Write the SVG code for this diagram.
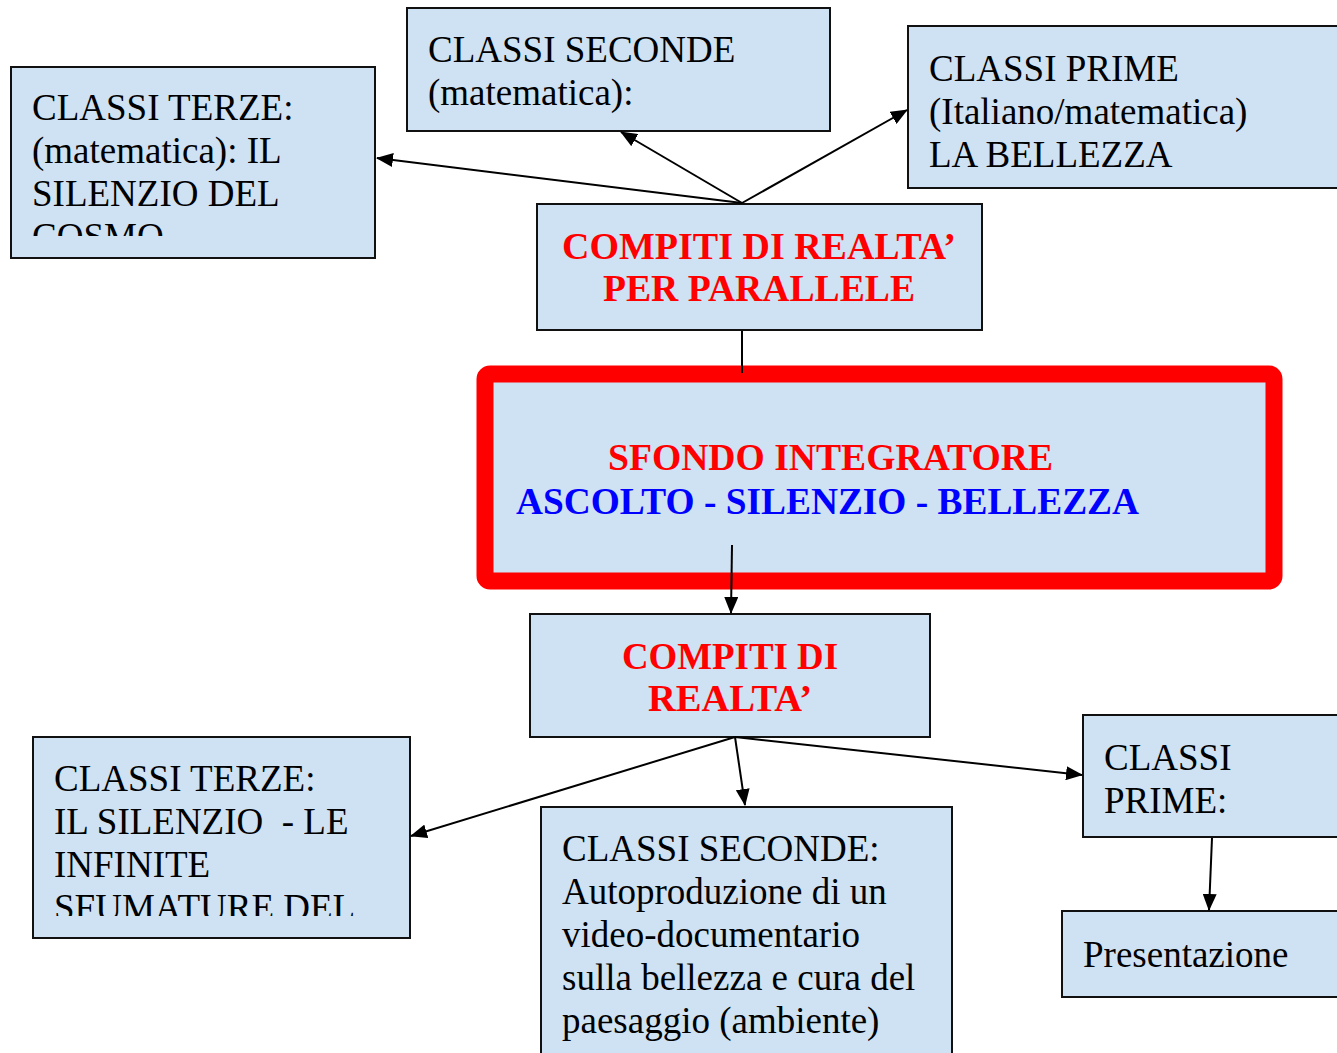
<svg xmlns="http://www.w3.org/2000/svg" width="1337" height="1053" viewBox="0 0 1337 1053">
<style>
.box{fill:#cfe2f3;stroke:#111;stroke-width:2}
.t{font-family:"Liberation Serif","Times New Roman",serif;font-size:37px;fill:#000}
.b{font-family:"Liberation Serif","Times New Roman",serif;font-size:37px;font-weight:bold}
.red{fill:#ff0000}
.blue{fill:#0000ff}
.c{stroke:#000;stroke-width:2;fill:none}
</style>
<defs>
<marker id="ah" markerUnits="userSpaceOnUse" markerWidth="18" markerHeight="14" refX="16" refY="7" orient="auto">
<path d="M0,0 L17,7 L0,14 Z" fill="#000"/>
</marker>
<clipPath id="clipA"><rect x="11" y="67" width="364" height="169"/></clipPath>
<clipPath id="clipB"><rect x="33" y="737" width="377" height="179"/></clipPath>
</defs>
<rect width="1337" height="1053" fill="#fff"/>
<g id="terze-top">
<rect class="box" x="11" y="67" width="364" height="191"/>
<g clip-path="url(#clipA)">
<text class="t" x="32" y="120">CLASSI TERZE:</text>
<text class="t" x="32" y="163">(matematica): IL</text>
<text class="t" x="32" y="206">SILENZIO DEL</text>
<text class="t" x="32" y="249">COSMO</text>
</g>
</g>
<g id="seconde-top">
<rect class="box" x="407" y="8" width="423" height="123"/>
<text class="t" x="428" y="62">CLASSI SECONDE</text>
<text class="t" x="428" y="105">(matematica):</text>
</g>
<g id="prime-top">
<rect class="box" x="908" y="26" width="440" height="162"/>
<text class="t" x="929" y="81">CLASSI PRIME</text>
<text class="t" x="929" y="124">(Italiano/matematica)</text>
<text class="t" x="929" y="167">LA BELLEZZA</text>
</g>
<g id="compiti-parallele">
<rect class="box" x="537" y="204" width="445" height="126"/>
<text class="b red" x="562" y="259" textLength="394" lengthAdjust="spacingAndGlyphs">COMPITI DI REALTA’</text>
<text class="b red" x="603" y="301" textLength="312" lengthAdjust="spacingAndGlyphs">PER PARALLELE</text>
</g>
<g id="sfondo">
<rect x="485" y="374" width="789" height="207" rx="5" fill="#cfe2f3" stroke="#ff0000" stroke-width="17"/>
<text class="b red" x="608" y="470" textLength="445" lengthAdjust="spacingAndGlyphs">SFONDO INTEGRATORE</text>
<text class="b blue" x="516" y="514" textLength="623" lengthAdjust="spacingAndGlyphs">ASCOLTO - SILENZIO - BELLEZZA</text>
</g>
<g id="compiti">
<rect class="box" x="530" y="614" width="400" height="123"/>
<text class="b red" x="622" y="669" textLength="216" lengthAdjust="spacingAndGlyphs">COMPITI DI</text>
<text class="b red" x="648" y="711" textLength="164" lengthAdjust="spacingAndGlyphs">REALTA’</text>
</g>
<g id="terze-bottom">
<rect class="box" x="33" y="737" width="377" height="201"/>
<g clip-path="url(#clipB)">
<text class="t" x="54" y="791">CLASSI TERZE:</text>
<text class="t" x="54" y="834" xml:space="preserve">IL SILENZIO  - LE</text>
<text class="t" x="54" y="877">INFINITE</text>
<text class="t" x="54" y="920">SFUMATURE DEL</text>
</g>
</g>
<g id="seconde-bottom">
<rect class="box" x="541" y="807" width="411" height="260"/>
<text class="t" x="562" y="861">CLASSI SECONDE:</text>
<text class="t" x="562" y="904">Autoproduzione di un</text>
<text class="t" x="562" y="947">video-documentario</text>
<text class="t" x="562" y="990">sulla bellezza e cura del</text>
<text class="t" x="562" y="1033">paesaggio (ambiente)</text>
</g>
<g id="prime-bottom">
<rect class="box" x="1083" y="715" width="270" height="122"/>
<text class="t" x="1104" y="770">CLASSI</text>
<text class="t" x="1104" y="813">PRIME:</text>
</g>
<g id="presentazione">
<rect class="box" x="1062" y="911" width="290" height="86"/>
<text class="t" x="1083" y="967">Presentazione</text>
</g>
<g id="connectors">
<line class="c" x1="742" y1="203" x2="377" y2="158" marker-end="url(#ah)"/>
<line class="c" x1="742" y1="203" x2="621" y2="132" marker-end="url(#ah)"/>
<line class="c" x1="742" y1="203" x2="907" y2="110" marker-end="url(#ah)"/>
<line class="c" x1="742" y1="331" x2="742" y2="373"/>
<line class="c" x1="732" y1="545" x2="731" y2="613" marker-end="url(#ah)"/>
<line class="c" x1="735" y1="737" x2="411" y2="836" marker-end="url(#ah)"/>
<line class="c" x1="735" y1="737" x2="745" y2="805" marker-end="url(#ah)"/>
<line class="c" x1="735" y1="737" x2="1082" y2="775" marker-end="url(#ah)"/>
<line class="c" x1="1212" y1="838" x2="1209" y2="910" marker-end="url(#ah)"/>
</g>
</svg>
